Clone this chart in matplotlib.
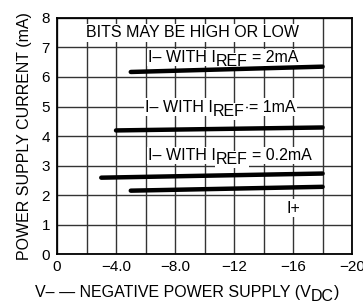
import matplotlib
matplotlib.use("Agg")
import matplotlib.pyplot as plt
from matplotlib.transforms import offset_copy

plt.rcParams['font.family'] = ['Liberation Sans', 'DejaVu Sans']

# Data (V- in volts, current in mA)
v_2ma = [-5, -18]
i_2ma = [6.17, 6.35]
v_1ma = [-4, -18]
i_1ma = [4.19, 4.29]
v_02ma = [-3, -18]
i_02ma = [2.59, 2.73]
v_ip = [-5, -18]
i_ip = [2.15, 2.28]

xgrid = [0, -2, -4, -6, -8, -10, -12, -14, -16, -18, -20]
xticklabels = ["0", "", "\u22124.0", "", "\u22128.0", "", "\u221212", "", "\u221216", "", "\u221220"]
yticks = [0, 1, 2, 3, 4, 5, 6, 7, 8]

DPI = 100
W, H = 363, 304
fig = plt.figure(figsize=(W / DPI, H / DPI), dpi=DPI)
ax = fig.add_axes([0.157, 0.164, 0.813, 0.777])

ax.set_xlim(0, -20)
ax.set_ylim(0, 8)
ax.set_xticks(xgrid)
ax.set_xticklabels(xticklabels, fontsize=11)
ax.set_yticks(yticks)
ax.set_yticklabels([str(v) for v in yticks], fontsize=11)
ax.tick_params(length=0)
ax.tick_params(axis='x', pad=4)
ax.tick_params(axis='y', pad=5)
ax.grid(True, color='#333333', lw=1.0, zorder=1)
ax.set_axisbelow(True)

for xs, ys in [(v_2ma, i_2ma), (v_1ma, i_1ma), (v_02ma, i_02ma), (v_ip, i_ip)]:
    ax.plot(xs, ys, color='black', lw=3.2, solid_capstyle='round', zorder=3)

FS = 11.5
bb = dict(facecolor='white', edgecolor='none', pad=0.8)
renderer = fig.canvas.get_renderer()


def width_pts(s, fs):
    t = fig.text(0, 0, s, fontsize=fs)
    w = t.get_window_extent(renderer).width
    t.remove()
    return w * 72.0 / DPI


space_w = width_pts("x x", FS) - width_pts("xx", FS)


def rich(x, y, pieces, fs=FS):
    """pieces: list of (string, vertical offset in points, gap-before in spaces)"""
    dx = 0.0
    for s, dy, gap in pieces:
        dx += gap * space_w
        tr = offset_copy(ax.transData, fig=fig, x=dx, y=dy, units='points')
        ax.text(x, y, s, transform=tr, fontsize=fs, ha='left', va='baseline',
                bbox=bb, zorder=2)
        dx += width_pts(s, fs)


SUB = -3.2
ax.text(-9.15, 7.34, "BITS MAY BE HIGH OR LOW", ha='center', va='baseline',
        fontsize=FS, bbox=bb, zorder=2)
rich(-6.17, 6.51, [("I\u2013 WITH I", 0, 0), ("REF", SUB, 0), ("= 2mA", 0, 1)])
rich(-5.97, 4.83, [("I\u2013 WITH I", 0, 0), ("REF", SUB, 0), ("= 1mA", 0, 1)])
rich(-6.17, 3.20, [("I\u2013 WITH I", 0, 0), ("REF", SUB, 0), ("= 0.2mA", 0, 1)])
ax.text(-16, 1.41, "I+", ha='center', va='baseline', fontsize=FS, bbox=bb, zorder=2)

for s in ax.spines.values():
    s.set_linewidth(1.3)
    s.set_color('black')
    s.set_zorder(4)

ax.set_ylabel("POWER SUPPLY CURRENT (mA)", fontsize=11.5, labelpad=7)

# x label with lowered subscript
xl_pieces = [("V\u2013 \u2014 NEGATIVE POWER SUPPLY (V", 0), ("DC", -3.0), (")", 0)]
dx = 0.0
for s, dy in xl_pieces:
    tr = offset_copy(fig.transFigure, fig=fig, x=dx, y=dy, units='points')
    fig.text(35.0 / W, 7.0 / H, s, transform=tr, fontsize=11.5, ha='left', va='baseline')
    dx += width_pts(s, 11.5)

fig.savefig("out.png", dpi=DPI)
